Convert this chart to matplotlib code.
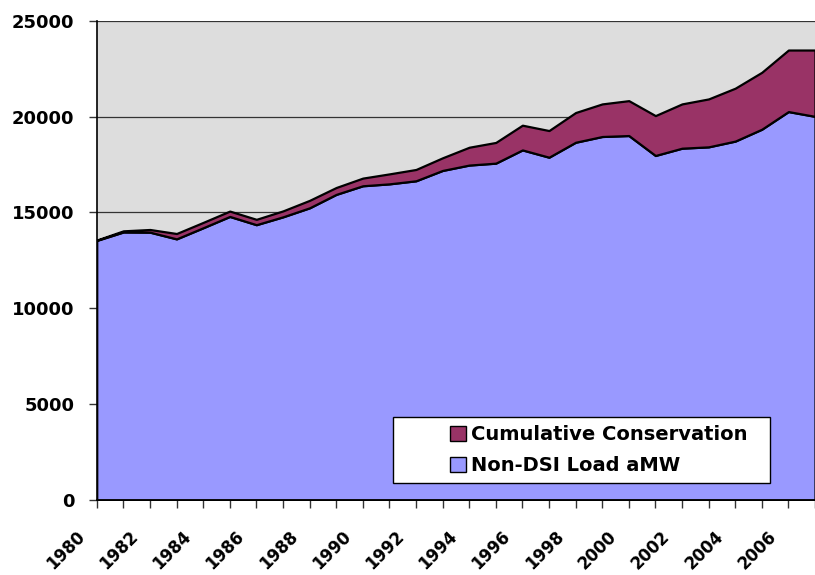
import matplotlib
matplotlib.use('Agg')
import matplotlib.pyplot as plt
from matplotlib.patches import Patch, Rectangle

# Values (aMW)
years = list(range(1980, 2008))
load_amw = [13540, 13980, 13970, 13620, 14200, 14790, 14360, 14770, 15240, 15940,
            16390, 16490, 16650, 17190, 17470, 17570, 18260, 17880, 18660, 18960,
            19010, 17970, 18350, 18420, 18720, 19340, 20260, 20010]
conservation = [20, 60, 140, 280, 280, 280, 280, 310, 390, 360,
                400, 520, 590, 660, 930, 1080, 1290, 1390, 1550, 1700,
                1820, 2080, 2310, 2500, 2760, 2970, 3210, 3460]
tick_years = list(range(1980, 2007, 2))
y_ticks = [0, 5000, 10000, 15000, 20000, 25000]

blue = '#9999FF'
maroon = '#993366'
font = 'DejaVu Sans'

fig = plt.figure(figsize=(8.15, 5.75), dpi=100)
ax = fig.add_axes([0.1187, 0.1304, 0.8813, 0.8336])
ax.set_facecolor('#DDDDDD')

ax.stackplot(years, load_amw, conservation, colors=[blue, maroon],
             edgecolor='black', linewidth=1.6, zorder=3)

for v in y_ticks[1:]:
    ax.axhline(v, color='#333333', linewidth=0.9, zorder=1)

ax.set_ylim(0, 25000)
ax.set_xlim(1980, 1980 + (815 - 96.7) / 27.13)
ax.set_yticks(y_ticks)
ax.set_xticks(years)
ax.set_xticklabels([])

for s in ['top', 'right']:
    ax.spines[s].set_visible(False)
for s in ['left', 'bottom']:
    ax.spines[s].set_color('black')
    ax.spines[s].set_linewidth(1.2)
    ax.spines[s].set_zorder(5)

ax.tick_params(axis='both', direction='out', length=6, width=1, color='#333333')
ax.tick_params(axis='y', pad=10)
for lab in ax.get_yticklabels():
    lab.set_fontfamily(font)
    lab.set_fontweight('bold')
    lab.set_fontsize(13)

# rotated year labels, every second year
for y in tick_years:
    ax.annotate(str(y), xy=(y, 0), xycoords=('data', 'axes fraction'),
                xytext=(-6, -19.5), textcoords='offset points',
                rotation=45, ha='right', va='top', annotation_clip=False,
                fontfamily=font, fontweight='bold', fontsize=12)

# legend box drawn as a plain rectangle, entries placed inside it
fig.patches.append(Rectangle((393 / 815, 1 - 483 / 575), 377 / 815, 66 / 575,
                             transform=fig.transFigure, facecolor='white',
                             edgecolor='black', linewidth=1.0, zorder=8))
handles = [Patch(facecolor=maroon, edgecolor='black', label='Cumulative Conservation'),
           Patch(facecolor=blue, edgecolor='black', label='Non-DSI Load aMW')]
leg = fig.legend(handles=handles, loc='upper left',
                 bbox_to_anchor=(450 / 815, 1 - 425 / 575),
                 frameon=False, handlelength=0.82, handleheight=0.82,
                 handletextpad=0.26, borderpad=0, borderaxespad=0,
                 labelspacing=0.62,
                 prop={'family': font, 'weight': 'bold', 'size': 14})
leg.set_zorder(10)

fig.savefig('out.png', dpi=100)
